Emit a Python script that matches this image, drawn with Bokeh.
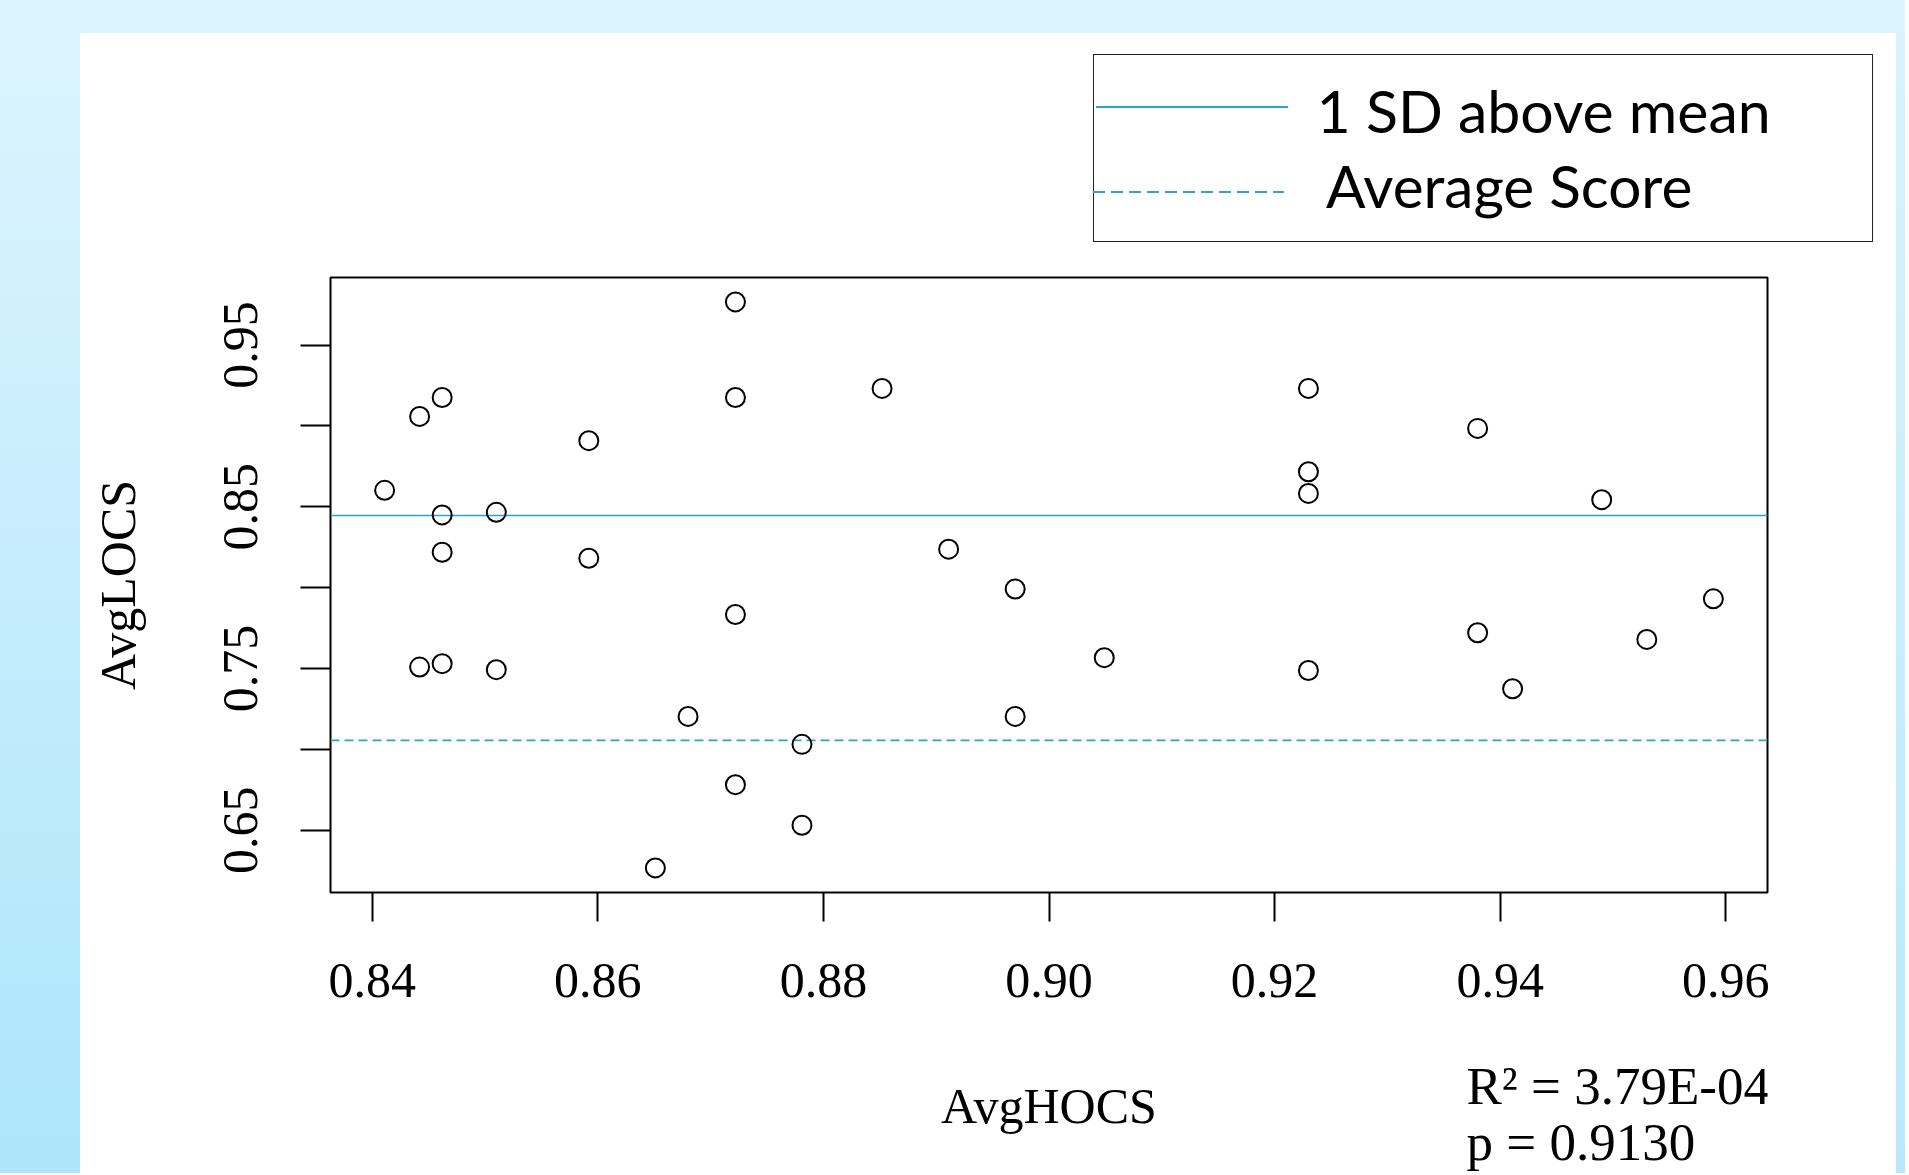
from bokeh.plotting import figure
from bokeh.models import Range1d, FixedTicker, NumeralTickFormatter, Div
from bokeh.core.properties import value
from bokeh.layouts import column, row
from bokeh.embed import file_html
from bokeh.resources import INLINE

# ---------------- data ----------------
avg_hocs = [0.8722, 0.8722, 0.8462, 0.8442, 0.8592, 0.8411, 0.8462, 0.8510,
            0.8462, 0.8592, 0.8852, 0.8911, 0.8970, 0.9230, 0.9380, 0.9230,
            0.9230, 0.9490, 0.9589, 0.8442, 0.8462, 0.8510, 0.8722, 0.8680,
            0.8722, 0.8651, 0.9049, 0.8970, 0.8781, 0.8781, 0.9230, 0.9380,
            0.9411, 0.9530]
avg_locs = [0.9767, 0.9176, 0.9176, 0.9059, 0.8909, 0.8602, 0.8450, 0.8466,
            0.8219, 0.8182, 0.9232, 0.8238, 0.7992, 0.9232, 0.8985, 0.8717,
            0.8583, 0.8544, 0.7931, 0.7509, 0.7530, 0.7493, 0.7834, 0.7204,
            0.6782, 0.6267, 0.7567, 0.7204, 0.7031, 0.6531, 0.7488, 0.7721,
            0.7375, 0.7680]
sd_above_mean = 0.8446
average_score = 0.7056

x_ticks = [0.84, 0.86, 0.88, 0.90, 0.92, 0.94, 0.96]
y_label_ticks = [0.65, 0.75, 0.85, 0.95]
y_minor_ticks = [0.70, 0.80, 0.90]
x_limits = (0.8363, 0.9637)
y_limits = (0.6115, 0.9918)

x_title = "AvgHOCS"
y_title = "AvgLOCS"
legend_labels = ["1 SD above mean", "Average Score"]
stats_lines = ["R\u00b2 = 3.79E-04", "p = 0.9130"]

# ---------------- layout geometry (pixels inside the white panel) ----------------
PANEL_W = 1816
LEG_H = 240
FRAME_L, FRAME_W, FRAME_H = 250, 1437, 615
FRAME_R = PANEL_W - FRAME_L - FRAME_W
MAIN_TOP, MAIN_BOTTOM = 4, 160
MAIN_H = MAIN_TOP + FRAME_H + MAIN_BOTTOM
TOTAL_H = 1140
BOT_H = TOTAL_H - LEG_H - MAIN_H

TEAL = "#2ea3c5"
SERIF = "Liberation Serif"


def frame_px_to_x(px):
    """horizontal panel pixel -> x data value"""
    return x_limits[0] + (px - FRAME_L) / FRAME_W * (x_limits[1] - x_limits[0])


# ---------------- legend strip (HTML) ----------------
legend_html = f"""
<div style="position:relative;width:{PANEL_W}px;height:{LEG_H}px;background:white;">
  <div style="position:absolute;left:1013px;top:21px;width:780px;height:188px;
              box-sizing:border-box;border:1.5px solid #222222;background:white;"></div>
  <div style="position:absolute;left:1016px;top:73.3px;width:192px;height:2px;
              background:{TEAL};"></div>
  <div style="position:absolute;left:1013px;top:157.7px;width:191px;height:2px;
              background:repeating-linear-gradient(to right,{TEAL} 0px,{TEAL} 12px,
              transparent 12px,transparent 18px);"></div>
  <div style="position:absolute;left:1236.6px;top:48px;font-family:Lato;font-size:59px;
              line-height:1;white-space:nowrap;color:black;">{legend_labels[0]}</div>
  <div style="position:absolute;left:1246px;top:123px;font-family:Lato;font-size:58.5px;
              line-height:1;white-space:nowrap;color:black;">{legend_labels[1]}</div>
</div>
"""
leg = Div(text=legend_html, width=PANEL_W, height=LEG_H, margin=0)

# ---------------- main scatter plot ----------------
p = figure(width=PANEL_W, height=MAIN_H,
           x_range=Range1d(*x_limits), y_range=Range1d(*y_limits),
           output_backend="svg", toolbar_location=None,
           min_border_left=FRAME_L, min_border_top=MAIN_TOP,
           min_border_right=FRAME_R, min_border_bottom=MAIN_BOTTOM,
           background_fill_color="white", border_fill_color="white", margin=0)
p.xgrid.visible = False
p.ygrid.visible = False
p.outline_line_color = "black"
p.outline_line_width = 2

xa = p.xaxis[0]
xa.ticker = FixedTicker(ticks=x_ticks)
xa.formatter = NumeralTickFormatter(format="0.00")
xa.axis_line_color = None
xa.major_tick_in = 0
xa.major_tick_out = 29
xa.major_tick_line_width = 2
xa.major_tick_line_color = "black"
xa.minor_tick_line_color = None
xa.major_label_text_font = SERIF
xa.major_label_text_font_size = "50px"
xa.major_label_text_color = "black"
xa.major_label_standoff = 42

ya = p.yaxis[0]
ya.ticker = FixedTicker(ticks=y_label_ticks, minor_ticks=y_minor_ticks)
ya.formatter = NumeralTickFormatter(format="0.00")
ya.axis_line_color = None
ya.major_tick_in = 0
ya.major_tick_out = 30
ya.major_tick_line_width = 2
ya.major_tick_line_color = "black"
ya.minor_tick_in = 0
ya.minor_tick_out = 30
ya.minor_tick_line_width = 2
ya.minor_tick_line_color = "black"
ya.major_label_orientation = "parallel"
ya.major_label_text_font = SERIF
ya.major_label_text_font_size = "50px"
ya.major_label_text_color = "black"
ya.major_label_standoff = 43
ya.axis_label = y_title
ya.axis_label_text_font = SERIF
ya.axis_label_text_font_size = "50px"
ya.axis_label_text_font_style = "normal"
ya.axis_label_text_color = "black"
ya.axis_label_standoff = 76

# reference lines across the whole x range
p.line(x=list(x_limits), y=[sd_above_mean, sd_above_mean], line_color=TEAL, line_width=1.6)
p.line(x=list(x_limits), y=[average_score, average_score], line_color=TEAL, line_width=1.6,
       line_dash="9 5")

# points
p.scatter(avg_hocs, avg_locs, marker="circle", size=19, fill_color=None,
          line_color="black", line_width=2)

# ---------------- strip below: x title and statistics ----------------
bot = figure(width=PANEL_W, height=BOT_H, x_range=p.x_range, y_range=Range1d(BOT_H, 0),
             output_backend="svg", toolbar_location=None, x_axis_type=None,
             y_axis_type=None, min_border_left=FRAME_L, min_border_right=FRAME_R,
             min_border_top=0, min_border_bottom=0, margin=0,
             background_fill_color="white", border_fill_color="white",
             outline_line_color=None)
bot.xgrid.visible = False
bot.ygrid.visible = False
bot.text(x=[(x_limits[0] + x_limits[1]) / 2], y=[53], text=[x_title],
         text_font=value(SERIF), text_font_size=value("50px"), text_color="black",
         text_baseline="alphabetic", text_align="center")
bot.text(x=[frame_px_to_x(1386)] * 2, y=[33, 89], text=stats_lines,
         text_font=value(SERIF), text_font_size=value("53px"), text_color="black",
         text_baseline="alphabetic", text_align="left")

# ---------------- light-blue slide background ----------------
top_bg = Div(text="", width=80 + PANEL_W + 9, height=33, margin=0,
             styles={"background": "#dcf4fe"})
left_bg = Div(text="", width=80, height=TOTAL_H, margin=0,
              styles={"background": "linear-gradient(#dcf4fe, #ade5fb)"})
right_bg = Div(text="", width=9, height=TOTAL_H, margin=0,
               styles={"background": "linear-gradient(#d8f3fd, #b8e9fb)"})

panel = column(leg, p, bot, spacing=0, margin=0)
layout = column(top_bg, row(left_bg, panel, right_bg, spacing=0, margin=0),
                spacing=0, margin=0)

open("out.html", "w").write(file_html(layout, INLINE))
